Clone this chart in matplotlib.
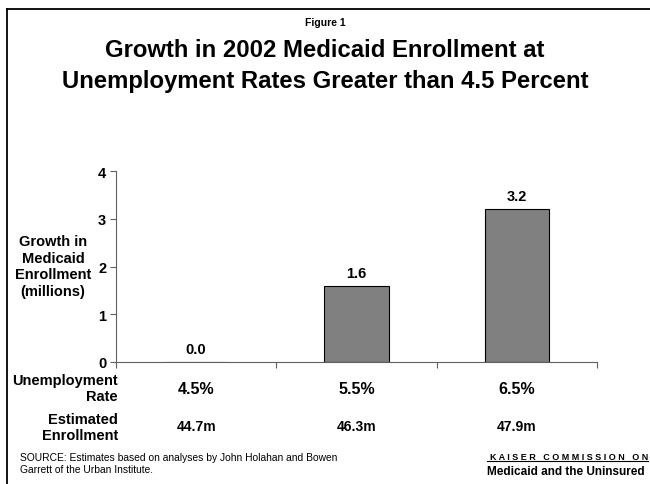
import matplotlib
matplotlib.use("Agg")
from matplotlib import pyplot as plt
from matplotlib.transforms import blended_transform_factory

plt.rcParams['font.family'] = ['Liberation Sans', 'DejaVu Sans']

rates = ['4.5%', '5.5%', '6.5%']
growth = [0.0, 1.6, 3.2]
enrollment = ['44.7m', '46.3m', '47.9m']

fig = plt.figure(figsize=(6.5, 4.85), dpi=100)
W, H = 650.0, 485.0

# frame around the slide (top and left only visible)
fig.add_artist(plt.Line2D([7 / W, 7 / W], [0, 1 - 10 / H], color='black', lw=1.3))
fig.add_artist(plt.Line2D([7 / W, 1], [1 - 10 / H, 1 - 10 / H], color='black', lw=1.3))

ax = fig.add_axes([116 / W, 1 - 363 / H, (597 - 116) / W, (363 - 172) / H])
x = range(len(rates))
bars = ax.bar(x, growth, width=0.4, color='#808080', edgecolor='black', linewidth=0.8)
for xi, v in zip(x, growth):
    ax.text(xi, v + 0.12, f'{v:.1f}', ha='center', va='bottom', fontsize=10.5, fontweight='bold')

ax.set_xlim(-0.5, 2.5)
ax.set_ylim(0, 4)
ax.set_yticks([0, 1, 2, 3, 4])
ax.set_yticklabels(['0', '1', '2', '3', '4'], fontsize=10.5, fontweight='bold')
ax.set_xticks([-0.5, 0.5, 1.5, 2.5])
ax.set_xticklabels([])
ax.tick_params(axis='y', direction='out', length=4, color='#606060', pad=3)
ax.tick_params(axis='x', direction='out', length=4, color='#606060')
for s in ['top', 'right']:
    ax.spines[s].set_visible(False)
for s in ['left', 'bottom']:
    ax.spines[s].set_color('#606060')

# rows below the axis
tr = blended_transform_factory(ax.transData, fig.transFigure)
for xi, r, e in zip(x, rates, enrollment):
    ax.text(xi, 1 - 390 / H, r, ha='center', va='center', fontsize=11.5, fontweight='bold',
            transform=tr)
    ax.text(xi, 1 - 427 / H, e, ha='center', va='center', fontsize=10, fontweight='bold',
            transform=tr)

fig.text(118 / W, 1 - 389 / H, 'Unemployment\nRate', ha='right', va='center',
         fontsize=10.5, fontweight='bold', linespacing=1.25)
fig.text(118 / W, 1 - 428 / H, 'Estimated\nEnrollment', ha='right', va='center',
         fontsize=10.5, fontweight='bold', linespacing=1.25)
fig.text(53 / W, 1 - 267 / H, 'Growth in\nMedicaid\nEnrollment\n(millions)', ha='center',
         va='center', fontsize=10.5, fontweight='bold', linespacing=1.25)

fig.text(0.5, 1 - 23 / H, 'Figure 1', ha='center', va='center', fontsize=7.5, fontweight='bold')
fig.text(0.5, 1 - 66 / H, 'Growth in 2002 Medicaid Enrollment at\nUnemployment Rates Greater than 4.5 Percent',
         ha='center', va='center', fontsize=17.2, fontweight='bold', linespacing=1.42)

fig.text(20 / W, 1 - 464 / H, 'SOURCE: Estimates based on analyses by John Holahan and Bowen\n'
         'Garrett of the Urban Institute.', ha='left', va='center', fontsize=7.4, linespacing=1.15)
fig.text(648 / W, 1 - 458 / H, 'K A I S E R   C O M M I S S I O N   O N', ha='right', va='center',
         fontsize=6.5, fontweight='bold')
fig.add_artist(plt.Line2D([487 / W, 648 / W], [1 - 462 / H, 1 - 462 / H], color='black', lw=0.8))
fig.text(566 / W, 1 - 472 / H, 'Medicaid and the Uninsured', ha='center', va='center',
         fontsize=8.5, fontweight='bold')

plt.savefig('out.png', dpi=100)
